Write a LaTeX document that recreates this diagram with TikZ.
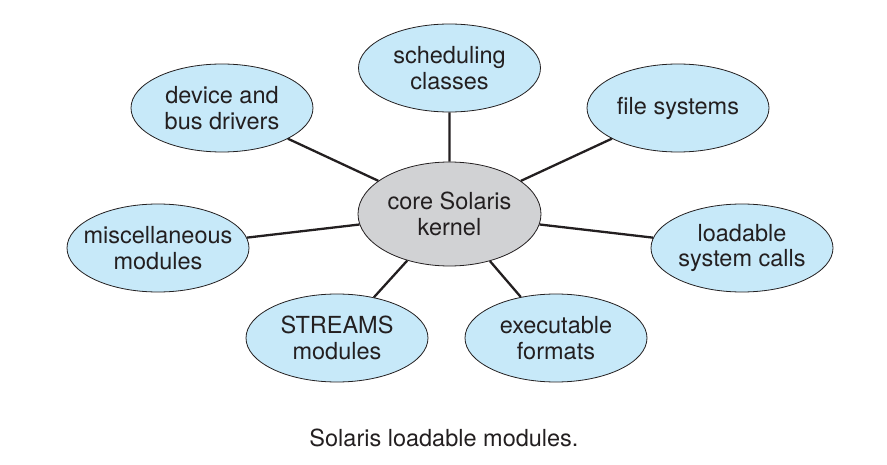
\documentclass[tikz,border=0pt]{standalone}
\usepackage{fontspec}
\setmainfont{TeX Gyre Heros}
\usepackage{tikz}
\usetikzlibrary{shapes.geometric}
\definecolor{modblue}{RGB}{199,233,249}
\definecolor{coregray}{RGB}{209,210,212}
\definecolor{ink}{RGB}{35,31,32}

\begin{document}
\begin{tikzpicture}[x=1pt,y=-1pt]
        \useasboundingbox (0,0) rectangle (887,465);
        \tikzstyle{every node}=[font=\fontsize{23.5}{25.5}\selectfont,text=ink,align=center]
        \tikzstyle{module}=[draw=ink,line width=0.8pt,shape=ellipse,fill=modblue,minimum width=182pt,minimum height=88pt,inner xsep=-30pt,inner ysep=0pt]
            \node[module,fill=coregray,minimum width=183pt,minimum height=104pt] (k) at (449.5,214) {core Solaris\\kernel};
            \node[module] (s) at (449.5,68) {scheduling\\classes};
            \node[module] (f) at (678,108) {file systems};
            \node[module] (l) at (742,248) {loadable\\system calls};
            \node[module] (e) at (556,338) {executable\\formats};
            \node[module] (t) at (337,338) {STREAMS\\modules};
            \node[module] (m) at (158,248) {miscellaneous\\modules};
            \node[module] (d) at (222,108) {device and\\bus drivers};

            \draw[line width=2.3pt,color=ink] (k) -- (s)
            (k) -- (f)
            (k) -- (l)
            (k) -- (e)
            (k) -- (t)
            (k) -- (m)
            (k) -- (d);

            \node (cap) at (444,438) {Solaris loadable modules.};
        \end{tikzpicture}
\end{document}
